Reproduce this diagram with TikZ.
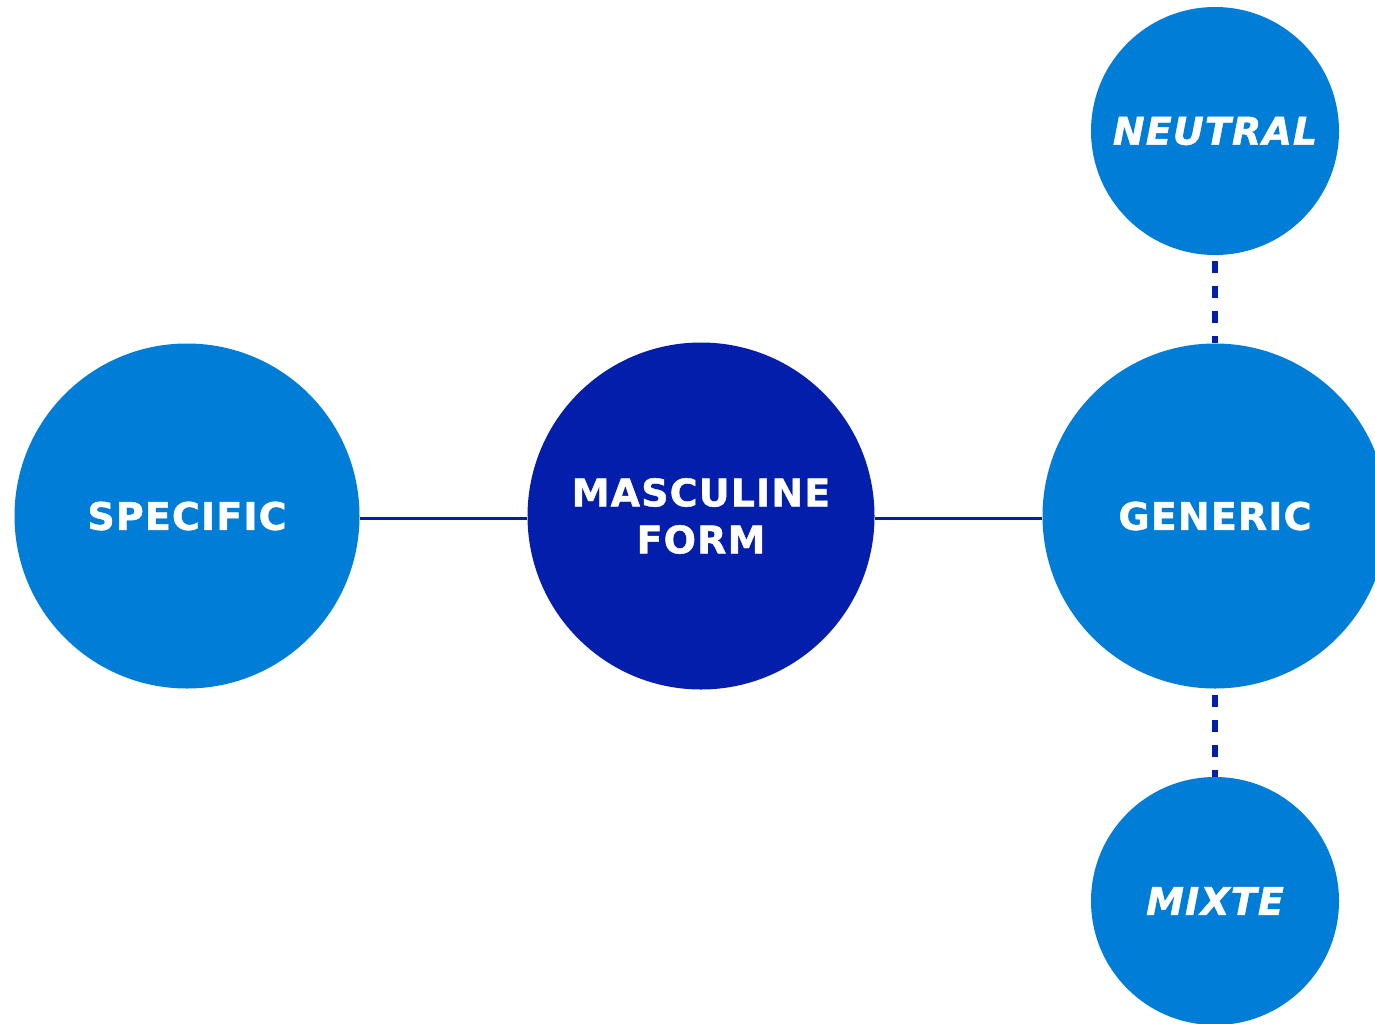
\documentclass[tikz,border=0pt]{standalone}
\usepackage{fontspec}
\setmainfont{DejaVu Sans}[LetterSpace=3,BoldFeatures={FakeBold=1.2},BoldItalicFeatures={FakeBold=1.2}]
\definecolor{lightb}{HTML}{007DD7}
\definecolor{darkb}{HTML}{031EAA}
\begin{document}
\begin{tikzpicture}[x=1pt,y=-1pt,
  bubble/.style={circle,fill=lightb,inner sep=0pt,text=white,font=\fontsize{38}{47}\selectfont\bfseries,align=center},
  solidlink/.style={draw=darkb,line width=3pt},
  dashlink/.style={draw=darkb,line width=6pt,dash pattern=on 12pt off 13pt}]
\useasboundingbox (0,0) rectangle (1375,1023);
\begin{scope}
\clip (0,0) rectangle (1375,1023);
\node[bubble,minimum size=345pt] (spec) at (187,516) {SPECIFIC};
\node[bubble,fill=darkb,minimum size=347pt] (masc) at (701,516) {MASCULINE\\FORM};
\node[bubble,minimum size=345pt] (gen) at (1215,516) {GENERIC};
\node[bubble,minimum size=248pt,font=\fontsize{38}{47}\selectfont\bfseries\itshape] (neut) at (1215,131) {NEUTRAL};
\node[bubble,minimum size=248pt,font=\fontsize{38}{47}\selectfont\bfseries\itshape] (mix) at (1215,901) {MIXTE};
\draw[solidlink] ([yshift=-2pt]spec.east) -- ([yshift=-2pt]masc.west);
\draw[solidlink] ([yshift=-2pt]masc.east) -- ([yshift=-2pt]gen.west);
\draw[dashlink] ([yshift=-6pt]neut.south) -- (gen.north);
\draw[dashlink] ([yshift=-6pt]gen.south) -- (mix.north);
\end{scope}
\end{tikzpicture}
\end{document}
